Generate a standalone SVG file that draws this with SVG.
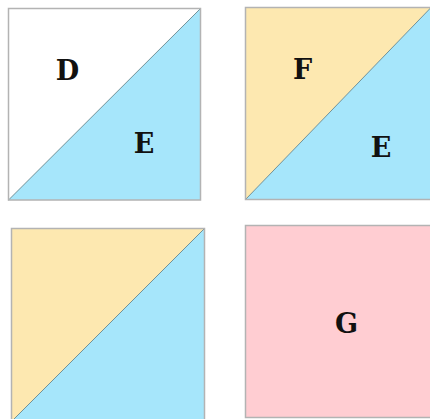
<svg xmlns="http://www.w3.org/2000/svg" width="430" height="419" viewBox="0 0 430 419">
<style>
.frame{stroke:#b3b3b3;stroke-width:1.5;fill:none}
.diag{stroke:#5a7a80;stroke-width:0.8;fill:none}
.blue{fill:#a6e6fb}
.yellow{fill:#fde8b0}
.white{fill:#ffffff}
.pink{fill:#ffcdd2}
.lbl{font-family:"DejaVu Serif","Liberation Serif",serif;font-size:27px;font-weight:bold;fill:#111;text-anchor:middle}
</style>
<rect width="430" height="419" fill="#ffffff"/>
<g id="sq1">
<polygon class="white" points="8.5,8.5 200.5,8.5 8.5,200"/>
<polygon class="blue" points="200.5,8.5 200.5,200 8.5,200"/>
<line class="diag" x1="8.5" y1="200" x2="200.5" y2="8.5"/>
<rect class="frame" x="8.5" y="8.5" width="192" height="191.5"/>
<text class="lbl" x="67.5" y="80">D</text>
<text class="lbl" x="144" y="152.5">E</text>
</g>
<g id="sq2">
<polygon class="yellow" points="245.5,7.5 431,7.5 245.5,199.5"/>
<polygon class="blue" points="431,7.5 431,199.5 245.5,199.5"/>
<line class="diag" x1="245.5" y1="199.5" x2="431" y2="7.5"/>
<rect class="frame" x="245.5" y="7.5" width="192" height="192"/>
<text class="lbl" x="302.5" y="78.5">F</text>
<text class="lbl" x="381" y="156.5">E</text>
</g>
<g id="sq3">
<polygon class="yellow" points="11.5,228.5 204.5,228.5 11.5,421.5"/>
<polygon class="blue" points="204.5,228.5 204.5,421.5 11.5,421.5"/>
<line class="diag" x1="11.5" y1="421.5" x2="204.5" y2="228.5"/>
<rect class="frame" x="11.5" y="228.5" width="193" height="193"/>
</g>
<g id="sq4">
<rect class="pink" x="245.5" y="225.5" width="192" height="192"/>
<rect class="frame" x="245.5" y="225.5" width="192" height="192"/>
<text class="lbl" x="346.5" y="333">G</text>
</g>
</svg>
